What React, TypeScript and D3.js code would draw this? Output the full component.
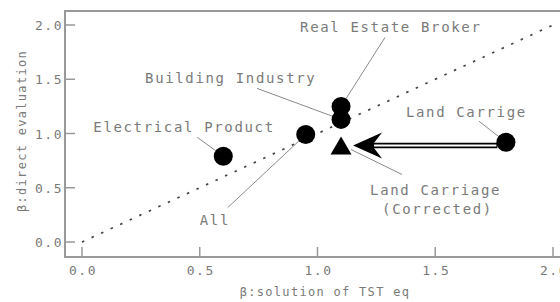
import React from 'react';
import * as d3 from 'd3';

// data
const names = ['Electrical Product', 'All', 'Real Estate Broker', 'Building Industry', 'Land Carrige'];
const tstValues = [0.6, 0.95, 1.1, 1.1, 1.8];
const directValues = [0.79, 0.99, 1.25, 1.13, 0.92];

const correctedName = ['Land Carriage', '(Corrected)'];
const correctedTst = 1.1;
const correctedDirect = 0.88;

const xTicks = [0, 0.5, 1.0, 1.5, 2.0];
const yTicks = [0, 0.5, 1.0, 1.5, 2.0];

// label placement relative to each point (pixels): text start, baseline, leader end
const labelOffsets = [
  { tx: -130, ty: -24, lx: -26, ly: -19 },
  { tx: -106, ty: 90, lx: -78, ly: 73 },
  { tx: -41, ty: -74, lx: 44, ly: -69 },
  { tx: -196, ty: -36, lx: -84, ly: -31 },
  { tx: -100, ty: -25, lx: -27, ly: -21 },
];

const W = 560;
const H = 302;
const FONT = '"DejaVu Sans Mono", monospace';
const GRAY = '#7a7a7a';

export default function App() {
  const left = 65;
  const top = 11;
  const bottom = 257;

  const x = d3.scaleLinear().domain([0, 2]).range([82, 553]);
  const y = d3.scaleLinear().domain([0, 2]).range([242, 25]);

  const diag = d3.line<number>().x((d) => x(d)).y((d) => y(d))([0, 2]);

  const pts = names.map((n, i) => ({ name: n, px: x(tstValues[i]), py: y(directValues[i]), off: labelOffsets[i] }));
  const cx = x(correctedTst);
  const cy = y(correctedDirect);
  const r = 9.5;

  // arrow from Land Carrige to corrected point
  const from = pts[4];
  const ay = cy - 1;
  const tipX = cx + 12;
  const headLen = 29;
  const startX = from.px - r + 1;
  const head = `M${tipX},${ay} L${tipX + headLen},${ay - 13} L${tipX + headLen - 10},${ay} L${tipX + headLen},${ay + 13} Z`;

  const tri = d3.symbol().type(d3.symbolTriangle).size(190)();

  return (
    <svg width={W} height={H} style={{ position: 'absolute', left: 0, top: 0, background: '#fff' }}>
      <rect x={0} y={0} width={W} height={H} fill="#fff" />
      {/* frame */}
      <rect x={left} y={top} width={W} height={bottom - top} fill="none" stroke="#999" strokeWidth={2} />

      {/* y ticks */}
      {yTicks.map((t) => (
        <g key={'y' + t}>
          <line x1={left} x2={left + 10} y1={y(t)} y2={y(t)} stroke="#999" strokeWidth={1.5} />
          <text x={left - 2} y={y(t) + 5} textAnchor="end" fontFamily={FONT} fontSize={13} letterSpacing={1.5} fill={GRAY}>
            {t.toFixed(1)}
          </text>
        </g>
      ))}
      {/* x ticks */}
      {xTicks.map((t) => (
        <g key={'x' + t}>
          <line x1={x(t)} x2={x(t)} y1={bottom} y2={bottom - 10} stroke="#999" strokeWidth={1.5} />
          <text x={x(t) + 1} y={275} textAnchor="middle" fontFamily={FONT} fontSize={13} letterSpacing={1.5} fill={GRAY}>
            {t.toFixed(1)}
          </text>
        </g>
      ))}

      <text x={325} y={296} textAnchor="middle" fontFamily={FONT} fontSize={12} letterSpacing={1.3} fill={GRAY}>
        β:solution of TST eq
      </text>
      <text
        transform={`translate(26,131) rotate(-90)`}
        textAnchor="middle"
        fontFamily={FONT}
        fontSize={12}
        letterSpacing={1.3}
        fill={GRAY}
      >
        β:direct evaluation
      </text>

      {/* y = x reference */}
      <path d={diag || ''} fill="none" stroke="#444" strokeWidth={1.7} strokeDasharray="2.5 8" />

      {/* leader lines */}
      {pts.map((p) => (
        <line key={'l' + p.name} x1={p.px} y1={p.py} x2={p.px + p.off.lx} y2={p.py + p.off.ly} stroke="#8a8a8a" strokeWidth={1} />
      ))}
      <line x1={cx + 10} y1={cy + 3} x2={cx + 61} y2={cy + 28} stroke="#8a8a8a" strokeWidth={1} />

      {/* labels */}
      {pts.map((p) => (
        <text key={'t' + p.name} x={p.px + p.off.tx} y={p.py + p.off.ty} fontFamily={FONT} fontSize={14} letterSpacing={1.65} fill={GRAY}>
          {p.name}
        </text>
      ))}
      <text x={cx + 29} y={cy + 48} fontFamily={FONT} fontSize={14} letterSpacing={1.65} fill={GRAY}>
        {correctedName[0]}
      </text>
      <text x={cx + 41} y={cy + 67} fontFamily={FONT} fontSize={14} letterSpacing={1.65} fill={GRAY}>
        {correctedName[1]}
      </text>

      {/* arrow */}
      <line x1={startX} x2={tipX + headLen - 12} y1={ay} y2={ay} stroke="#000" strokeWidth={5.5} />
      <line x1={startX - 1} x2={tipX + headLen - 8} y1={ay} y2={ay} stroke="#fff" strokeWidth={2} />
      <path d={head} fill="#000" />

      {/* markers */}
      {pts.map((p) => (
        <circle key={'c' + p.name} cx={p.px} cy={p.py} r={r} fill="#000" />
      ))}
      <path d={tri || ''} transform={`translate(${cx},${cy + 2})`} fill="#000" />
    </svg>
  );
}
